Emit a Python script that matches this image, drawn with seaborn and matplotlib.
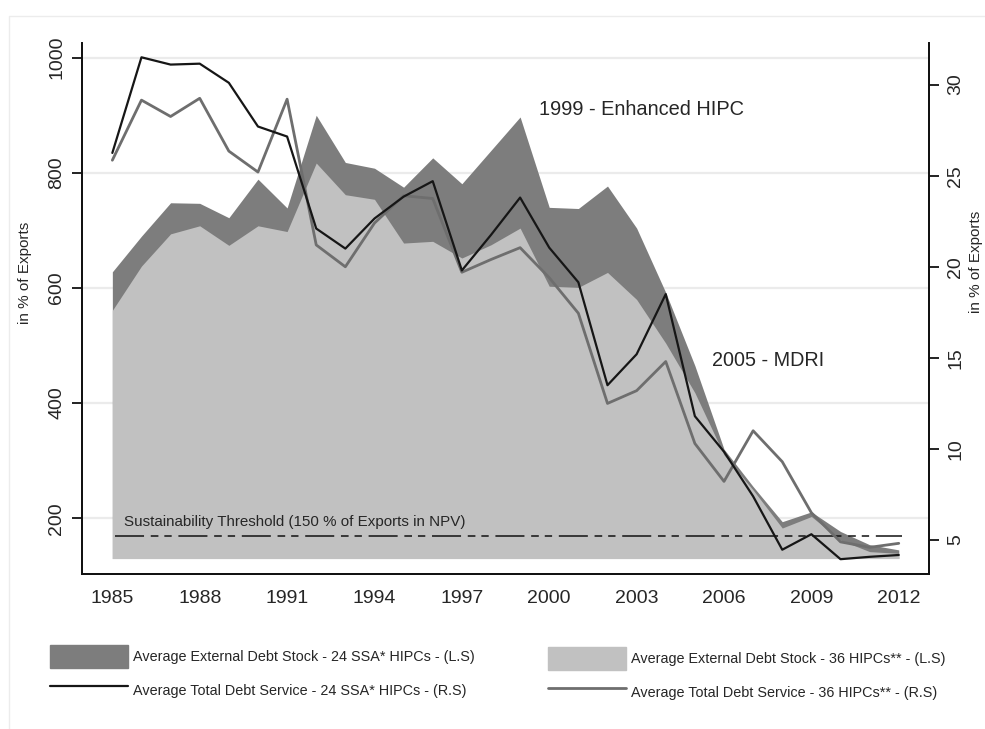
import matplotlib
matplotlib.use("Agg")
import matplotlib.pyplot as plt
from matplotlib.patches import Patch, Rectangle
from matplotlib.lines import Line2D
import pandas as pd
import seaborn as sns

# --------------------------
# Data
# --------------------------
years = list(range(1985, 2013))

# external debt stock, % of exports (left scale)
stock_ssa24 = [628, 690, 748, 747, 722, 789, 739, 900, 818, 808, 775, 826, 781, 839,
               897, 740, 738, 777, 704, 592, 465, 320, 255, 194, 211, 177, 154, 145]
stock_hipc36 = [561, 638, 694, 708, 674, 708, 698, 817, 762, 754, 678, 681, 652, 675,
                704, 603, 601, 627, 580, 504, 418, 310, 249, 183, 203, 162, 142, 139]

# total debt service, % of exports (right scale)
service_ssa24 = [26.25, 31.5, 31.1, 31.15, 30.1, 27.7, 27.15, 22.1, 21.0, 22.65, 23.85, 24.7,
                 19.8, 21.75, 23.8, 21.05, 19.15, 13.5, 15.2, 18.5, 11.8, 9.85, 7.4, 4.47,
                 5.32, 3.95, 4.08, 4.18]
service_hipc36 = [25.85, 29.15, 28.25, 29.25, 26.35, 25.2, 29.2, 21.2, 20.0, 22.4, 23.9, 23.75,
                  19.7, 20.4, 21.05, 19.4, 17.45, 12.5, 13.2, 14.8, 10.3, 8.22, 11.0, 9.3,
                  6.5, 4.9, 4.6, 4.82]

area_base = 130
threshold = 169
left_ticks = [200, 400, 600, 800, 1000]
right_ticks = [5, 10, 15, 20, 25, 30]
xticks = list(range(1985, 2013, 3))

labels = [
    "Average External Debt Stock - 24 SSA* HIPCs - (L.S)",
    "Average Total Debt Service - 24 SSA* HIPCs - (R.S)",
    "Average External Debt Stock - 36 HIPCs** - (L.S)",
    "Average Total Debt Service - 36 HIPCs** - (R.S)",
]

DARK = "#7d7d7d"
LIGHT = "#c1c1c1"
BLACK = "#161616"
GREY = "#6e6e6e"

df = pd.DataFrame({"year": years, "ssa": service_ssa24, "hipc": service_hipc36})

sns.set_style("white")
plt.rcParams["font.family"] = ["Liberation Sans", "DejaVu Sans"]

fig = plt.figure(figsize=(9.85, 7.29), dpi=100)
ax = fig.add_axes([0.083, 0.2122, 0.8605, 0.7292])

# areas (left scale)
ax.fill_between(years, area_base, stock_ssa24, color=DARK, lw=0, zorder=2)
ax.fill_between(years, area_base, stock_hipc36, color=LIGHT, lw=0, zorder=3)

# threshold line
ax.plot([years[0] + 0.1, years[-1] + 0.1], [threshold, threshold], color="#111111", lw=1.1,
        dashes=(19, 4.4, 5, 3.9, 4.8, 4.4), zorder=4)
ax.text(1985.4, 194, "Sustainability Threshold (150 % of Exports in NPV)",
        fontsize=10.9, va="center", ha="left", zorder=5)

ax.set_xlim(1983.95, 2013.05)
ax.set_ylim(102.6, 1026)
ax.set_xticks(xticks)
ax.set_yticks(left_ticks)
ax.grid(axis="y", color="#ebebeb", lw=1.6)
ax.grid(axis="x", visible=False)
ax.set_axisbelow(True)

# lines (right scale)
ax2 = ax.twinx()
sns.lineplot(data=df, x="year", y="hipc", ax=ax2, color=GREY, lw=2.0, zorder=5)
sns.lineplot(data=df, x="year", y="ssa", ax=ax2, color=BLACK, lw=1.6, zorder=6)
ax2.set_ylim(3.12, 32.3)
ax2.set_yticks(right_ticks)
ax2.grid(False)

ax.text(1999.66, 910, "1999 - Enhanced HIPC", fontsize=14.4, va="center", ha="left")
ax.text(2005.58, 474, "2005 - MDRI", fontsize=14.2, va="center", ha="left")

for a in (ax, ax2):
    a.spines["top"].set_visible(False)
    for s in ("left", "right", "bottom"):
        a.spines[s].set_linewidth(1.3)
        a.spines[s].set_color("#111111")
    a.set_xlabel("")
    a.set_ylabel("")

ax.tick_params(axis="x", length=7.5, width=1.3, pad=3.5, labelsize=14, color="#111111")
ax.tick_params(axis="y", length=7.5, width=1.3, pad=4.3, labelsize=14, color="#111111", left=True)
ax2.tick_params(axis="y", length=7.5, width=1.3, pad=5.5, labelsize=14, color="#111111", right=True)
for lab in ax.get_yticklabels():
    lab.set_rotation(90)
    lab.set_va("center")
for lab in ax2.get_yticklabels():
    lab.set_rotation(90)
    lab.set_va("center")

fig.text(25 / 985, 1 - 273 / 729, "in % of Exports", rotation=90, fontsize=11,
         ha="center", va="center")
fig.text(976 / 985, 1 - 262 / 729, "in % of Exports", rotation=90, fontsize=11,
         ha="center", va="center")

# legend, two blocks under the plot
leg_font = {"family": ["Liberation Sans"], "size": 10.4}
h_dark = Patch(facecolor=DARK, edgecolor=DARK)
h_light = Patch(facecolor=LIGHT, edgecolor=LIGHT)
h_black = Line2D([], [], color=BLACK, lw=1.6)
h_grey = Line2D([], [], color=GREY, lw=2.0)
common = dict(frameon=False, prop=leg_font, handlelength=5.4, handleheight=2.1,
              handletextpad=0.35, labelspacing=0.7, borderpad=0, borderaxespad=0,
              loc="upper left")
fig.legend([h_dark, h_black], labels[:2], bbox_to_anchor=(50 / 985, 1 - 645 / 729), **common)
fig.legend([h_light, h_grey], labels[2:], bbox_to_anchor=(548 / 985, 1 - 647 / 729), **common)

# faint outer frame of the original image
fig.patches.append(Rectangle((9 / 985, -0.1), 1.0, 1 - 16 / 729 + 0.1, transform=fig.transFigure,
                             fill=False, edgecolor="#ececec", lw=1))

fig.savefig("out.png", dpi=100, facecolor="white")
